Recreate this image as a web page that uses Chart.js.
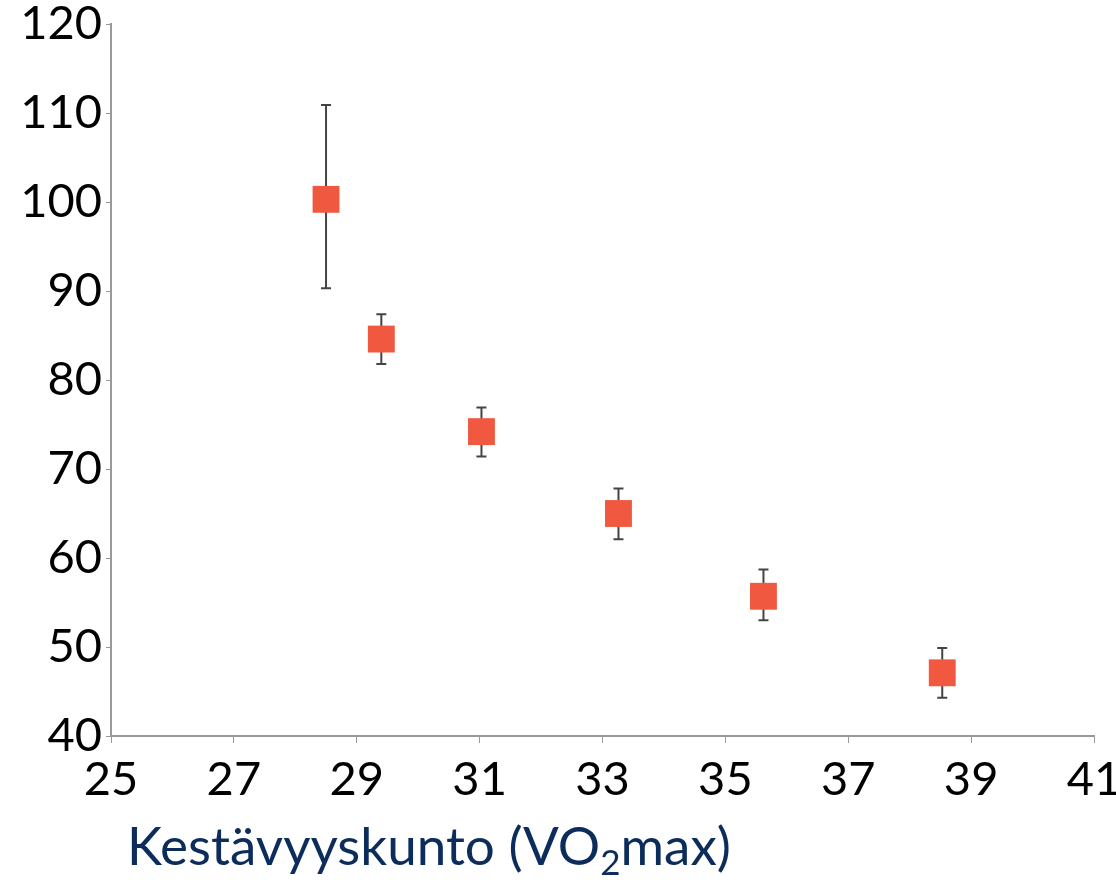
<!DOCTYPE html>
<html>
<head>
<meta charset="utf-8">
<script src="https://cdn.jsdelivr.net/npm/chart.js@4/dist/chart.umd.min.js"></script>
<style>
  html, body { margin: 0; padding: 0; background: #fff; }
  #wrap { width: 1116px; height: 882px; }
</style>
</head>
<body>
<div id="wrap"><canvas id="vo2Chart"></canvas></div>
<script>
// Kestävyyskunto vs. arvo, keskiarvot ja virhepalkit
const vo2Values = [28.5, 29.4, 31.03, 33.26, 35.62, 38.53];
const meanValues = [100.3, 84.6, 74.2, 65.0, 55.7, 47.1];
const errHigh = [110.9, 87.4, 76.9, 67.8, 58.7, 49.9];
const errLow = [90.3, 81.8, 71.4, 62.1, 53.0, 44.3];
const xTicks = [25, 27, 29, 31, 33, 35, 37, 39, 41];
const yTicks = [40, 50, 60, 70, 80, 90, 100, 110, 120];
const axisTitle = 'Kestävyyskunto (VO';
const axisTitleSub = '2';
const axisTitleEnd = 'max)';

const points = vo2Values.map((x, i) => ({ x: x, y: meanValues[i] }));

// virhepalkit piirretään skaalojen kautta ennen pisteitä
const errorBars = {
    id: 'errorBars',
    beforeDatasetsDraw(chart) {
        const ctx = chart.ctx;
        const xs = chart.scales.x, ys = chart.scales.y;
        ctx.save();
        ctx.strokeStyle = '#444';
        ctx.lineWidth = 2;
        vo2Values.forEach((v, i) => {
            const px = xs.getPixelForValue(v);
            const top = ys.getPixelForValue(errHigh[i]);
            const bot = ys.getPixelForValue(errLow[i]);
            ctx.beginPath();
            ctx.moveTo(px, top); ctx.lineTo(px, bot);
            ctx.moveTo(px - 5, top); ctx.lineTo(px + 5, top);
            ctx.moveTo(px - 5, bot); ctx.lineTo(px + 5, bot);
            ctx.stroke();
        });
        ctx.restore();
    }
};

// akselin otsikko alaindeksillä
const xTitle = {
    id: 'xTitle',
    afterDraw(chart) {
        const ctx = chart.ctx;
        ctx.save();
        ctx.fillStyle = '#0c2d5c';
        ctx.textBaseline = 'alphabetic';
        ctx.font = '53px Lato';
        let x = 127, y = 865;
        ctx.fillText(axisTitle, x, y);
        x += ctx.measureText(axisTitle).width;
        ctx.font = '35px Lato';
        ctx.fillText(axisTitleSub, x, y + 10);
        x += ctx.measureText(axisTitleSub).width;
        ctx.font = '53px Lato';
        ctx.fillText(axisTitleEnd, x, y);
        ctx.restore();
    }
};

new Chart(document.getElementById('vo2Chart'), {
    type: 'scatter',
    data: {
        datasets: [{
            data: points,
            pointStyle: 'rect',
            pointRadius: 19,
            pointHoverRadius: 19,
            backgroundColor: '#f0583f',
            borderWidth: 0
        }]
    },
    options: {
        responsive: true,
        maintainAspectRatio: false,
        animation: false,
        events: [],
        layout: { padding: { top: 24, right: 22, left: 0, bottom: 0 } },
        plugins: { legend: { display: false }, tooltip: { enabled: false } },
        scales: {
            x: {
                type: 'linear',
                min: 25, max: 41,
                afterBuildTicks: s => { s.ticks = xTicks.map(v => ({ value: v })); },
                afterFit: s => { s.height = 146; s.paddingLeft = 0; s.paddingRight = 0; },
                grid: { drawOnChartArea: false, drawTicks: true, tickLength: 7, color: '#999', lineWidth: 1 },
                border: { color: '#999', width: 2 },
                ticks: { color: '#000', font: { family: 'Lato', size: 47 }, padding: 9, maxRotation: 0 }
            },
            y: {
                min: 40, max: 120,
                afterBuildTicks: s => { s.ticks = yTicks.map(v => ({ value: v })); },
                afterFit: s => { s.width = 111; s.paddingTop = 0; s.paddingBottom = 0; },
                grid: { drawOnChartArea: false, drawTicks: true, tickLength: 5, color: '#999', lineWidth: 1 },
                border: { color: '#999', width: 2 },
                ticks: { color: '#000', font: { family: 'Lato', size: 47 }, padding: 4 }
            }
        }
    },
    plugins: [errorBars, xTitle]
});
</script>
</body>
</html>
